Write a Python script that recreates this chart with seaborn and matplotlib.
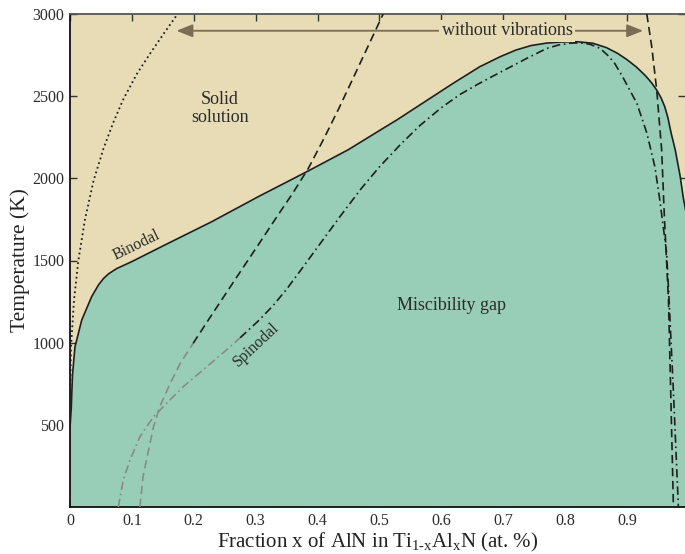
import matplotlib
matplotlib.use("Agg")
import matplotlib.pyplot as plt
import seaborn as sns
import pandas as pd

# ---- data ----
binodal_x = [0.0, 0.002, 0.004, 0.008, 0.019, 0.035, 0.046, 0.054, 0.062, 0.075, 0.0997, 0.153, 0.229,
             0.304, 0.385, 0.450, 0.504, 0.528, 0.619, 0.662, 0.695, 0.72, 0.745, 0.77, 0.795,
             0.82, 0.845, 0.867, 0.885, 0.90, 0.915, 0.93, 0.94, 0.948, 0.955, 0.961, 0.966,
             0.971, 0.978, 0.986, 0.991, 1.0]
binodal_T = [480, 600, 800, 974, 1138, 1280, 1351, 1390, 1418, 1450, 1493, 1594, 1736,
             1888, 2045, 2175, 2300, 2355, 2578, 2679, 2740, 2780, 2808, 2823, 2830,
             2831, 2822, 2795, 2760, 2722, 2678, 2624, 2580, 2537, 2490, 2436, 2370,
             2280, 2172, 2010, 1880, 1700]

dotted_x = [0.0, 0.0016, 0.0065, 0.0135, 0.024, 0.038, 0.054, 0.070, 0.086, 0.108, 0.129, 0.151, 0.172, 0.174]
dotted_T = [620, 974, 1260, 1500, 1746, 1985, 2180, 2340, 2480, 2635, 2757, 2878, 2990, 3000]

dash_left_gray_x = [0.113, 0.118, 0.127, 0.135, 0.145, 0.162, 0.178, 0.199]
dash_left_gray_T = [0, 184, 347, 489, 610, 753, 874, 996]
dash_left_black_x = [0.199, 0.213, 0.2235, 0.277, 0.304, 0.334, 0.36, 0.385, 0.41, 0.435, 0.46, 0.483, 0.506]
dash_left_black_T = [996, 1077, 1138, 1442, 1594, 1765, 1910, 2060, 2240, 2430, 2630, 2815, 3000]
dash_right_x = [0.932, 0.94, 0.948, 0.956, 0.960, 0.963, 0.967, 0.970, 0.975]
dash_right_T = [3000, 2800, 2537, 2172, 1800, 1564, 1260, 800, 0]

dd_gray_x = [0.078, 0.086, 0.097, 0.113, 0.135, 0.156, 0.183, 0.215, 0.248, 0.275]
dd_gray_T = [0, 164, 286, 428, 549, 631, 732, 834, 940, 1030]
dd_black_x = [0.275, 0.305, 0.328, 0.35, 0.372, 0.436, 0.47, 0.50, 0.535, 0.565, 0.60, 0.63,
              0.66, 0.695, 0.738, 0.77, 0.79, 0.81, 0.825, 0.84, 0.856, 0.87, 0.88, 0.893,
              0.916, 0.932, 0.945, 0.953, 0.964, 0.968, 0.975, 0.983]
dd_black_T = [1030, 1135, 1225, 1325, 1437, 1766, 1935, 2070, 2210, 2320, 2430, 2510,
              2575, 2645, 2730, 2790, 2812, 2823, 2824, 2816, 2792, 2745, 2700, 2617,
              2456, 2276, 2071, 1868, 1546, 1260, 700, 0]

xticks = [0, 0.1, 0.2, 0.3, 0.4, 0.5, 0.6, 0.7, 0.8, 0.9]
xtick_labels = ["0", "0.1", "0.2", "0.3", "0.4", "0.5", "0.6", "0.7", "0.8", "0.9"]
yticks = [500, 1000, 1500, 2000, 2500, 3000]
ytick_labels = ["500", "1000", "1500", "2000", "2500", "3000"]

# ---- style ----
sns.set_style("ticks")
plt.rcParams["font.family"] = ["Liberation Serif", "DejaVu Serif"]
plt.rcParams["mathtext.fontset"] = "custom"
plt.rcParams["mathtext.rm"] = "Liberation Serif"
plt.rcParams["mathtext.it"] = "Liberation Serif"

BEIGE = "#e8dcb6"
TEAL = "#98cdb8"
BLACK = "#1f1f1f"
GRAY = "#8a8a8a"
ARROW = "#7a6d56"

fig = plt.figure(figsize=(6.85, 5.54), dpi=100)
ax = fig.add_axes([70 / 685, 47 / 554, 615 / 685, 493 / 554])
ax.set_facecolor(BEIGE)

ax.fill_between(binodal_x, 0, binodal_T, color=TEAL, lw=0, zorder=1)

def line(x, y, color, dashes, lw=1.2):
    df = pd.DataFrame({"x": x, "T": y})
    sns.lineplot(data=df, x="x", y="T", sort=False, estimator=None, ax=ax,
                 color=color, lw=lw, zorder=3)
    ln = ax.lines[-1]
    if dashes is not None:
        ln.set_dashes(dashes)
    ln.set_dash_capstyle("butt")
    ln.set_solid_joinstyle("round")
    return ln

line(binodal_x, binodal_T, BLACK, None, lw=1.2)
line(dotted_x, dotted_T, BLACK, (1.0, 1.7), lw=1.3)
line(dash_left_gray_x, dash_left_gray_T, GRAY, (5, 2.8))
line(dash_left_black_x, dash_left_black_T, BLACK, (5, 2.8))
line(dash_right_x, dash_right_T, BLACK, (5, 2.8))
line(dd_gray_x, dd_gray_T, GRAY, (5, 2.2, 1, 2.2))
line(dd_black_x, dd_black_T, BLACK, (5, 2.2, 1, 2.2))

# arrow "without vibrations"
ax.annotate("", xy=(0.172, 2898), xytext=(0.926, 2898),
            arrowprops=dict(arrowstyle="<|-|>,head_length=0.7,head_width=0.28",
                            color=ARROW, lw=1.3, shrinkA=0, shrinkB=0, mutation_scale=14),
            zorder=4)
ax.text(0.706, 2898, "without vibrations", ha="center", va="center", fontsize=13,
        color="#2b2b2b", zorder=5,
        bbox=dict(boxstyle="square,pad=0.15", fc=BEIGE, ec="none"))

ax.text(0.242, 2427, "Solid\nsolution", ha="center", va="center", fontsize=13,
        color="#2b2b2b", linespacing=1.1, zorder=5)
ax.text(0.108, 1590, "Binodal", ha="center", va="center", fontsize=11.5,
        rotation=26, color="#2b2b2b", zorder=5)
ax.text(0.301, 990, "Spinodal", ha="center", va="center", fontsize=11.5,
        rotation=43, color="#2b2b2b", zorder=5)
ax.text(0.617, 1229, "Miscibility gap", ha="center", va="center", fontsize=13,
        color="#2b2b2b", zorder=5)

ax.set_xlim(0, 0.9937)
ax.set_ylim(0, 3000)
ax.set_xticks(xticks)
ax.set_xticklabels(xtick_labels)
ax.set_yticks(yticks)
ax.set_yticklabels(ytick_labels)
ax.tick_params(direction="in", length=5, width=1, top=True, right=True,
               labelsize=11.5, labelcolor="#2b2b2b", color="#333333", pad=4)
for s in ["left", "bottom"]:
    ax.spines[s].set_color("#111111")
    ax.spines[s].set_linewidth(1.3)
ax.spines["top"].set_color("#555555")
ax.spines["top"].set_linewidth(1.3)
ax.spines["right"].set_visible(False)

ax.set_xlabel(r"Fraction x of AlN in Ti$_{\rm 1\text{-}x}$Al$_{\rm x}$N (at. %)", fontsize=15,
              color="#222222", labelpad=2)
ax.set_ylabel("Temperature (K)", fontsize=15.5, color="#222222", labelpad=2)

fig.savefig("out.png", dpi=100)
